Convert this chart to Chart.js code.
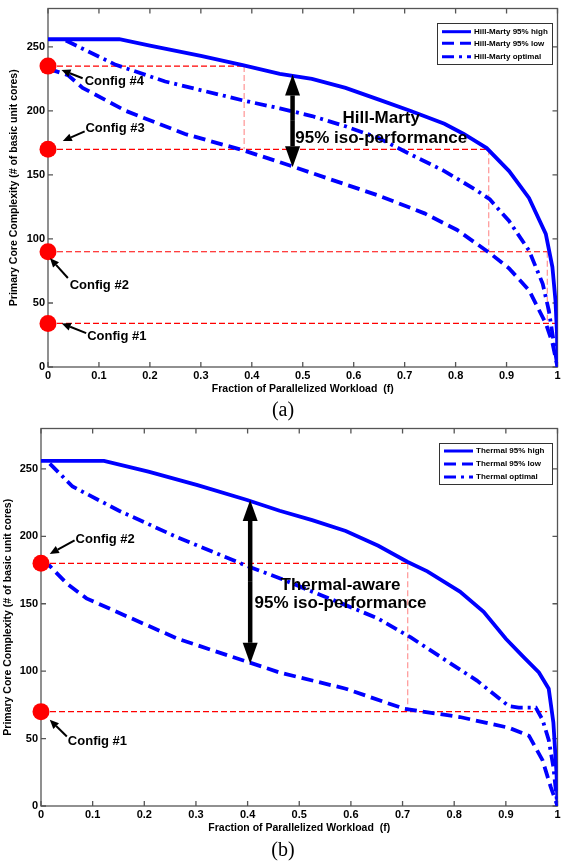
<!DOCTYPE html>
<html><head><meta charset="utf-8">
<script src="https://cdn.jsdelivr.net/npm/chart.js@4.4.1/dist/chart.umd.min.js"></script>
<style>
body{margin:0;background:#fff;width:566px;height:867px;position:relative;overflow:hidden}
.wrap{position:absolute;left:0;width:566px}
.cap{position:absolute;left:0;width:566px;text-align:center;font-family:"Liberation Serif","Times New Roman",serif;font-size:20px;line-height:23px;color:#000}
</style></head><body>
<div class="wrap" style="top:0;height:400px"><canvas id="ca" width="566" height="400"></canvas></div>
<div class="cap" style="top:398px">(a)</div>
<div class="wrap" style="top:420px;height:420px"><canvas id="cb" width="566" height="420"></canvas></div>
<div class="cap" style="top:838px">(b)</div>
<script>
// ---------- DATA (a) Hill-Marty ----------
const hmHighF = [0,0.14,0.2,0.3,0.38,0.455,0.518,0.584,0.648,0.712,0.778,0.816,0.861,0.905,0.944,0.977,0.99,0.996,0.999,1];
const hmHighY = [256,256,251,243,236,229,225,218,209,200,190,182,171,153,132,104,78,52,26,0];
const hmLowF  = [0,0.039,0.068,0.153,0.269,0.385,0.455,0.551,0.648,0.739,0.803,0.867,0.905,0.944,0.977,0.99,1];
const hmLowY  = [233,228,218,200,182,169,160,147,134,120,107,89,77,60,34,19,0];
const hmOptF  = [0.035,0.133,0.23,0.385,0.455,0.518,0.584,0.648,0.712,0.778,0.841,0.867,0.905,0.944,0.971,0.983,0.992,1];
const hmOptY  = [255,236,223,208,202,196,188,179,166,153,138,131,114,91,65,44,21,0];
const hmConfigY = [235,170,90,34];
const hmConfigNames = ['Config #4','Config #3','Config #2','Config #1'];
// reference lines (a)
const hmRef4F = [0,0.385,0.385], hmRef4Y = [235,235,170];
const hmRef3F = [0,0.865,0.865], hmRef3Y = [170,170,90];
const hmRef2F = [0,0.98,0.98],   hmRef2Y = [90,90,34];
const hmRef1F = [0,1],           hmRef1Y = [34,34];

// ---------- DATA (b) Thermal ----------
const thHighF = [0,0.122,0.208,0.303,0.399,0.462,0.525,0.59,0.653,0.71,0.748,0.811,0.857,0.9,0.933,0.964,0.983,0.992,0.998,1];
const thHighY = [256,256,248,238,227,219,212,204,193,181,174,159,144,124,111,99,87,62,25,0];
const thLowF  = [0,0.017,0.05,0.088,0.176,0.265,0.399,0.462,0.59,0.704,0.811,0.906,0.945,0.971,0.987,1];
const thLowY  = [180,178,165,154,139,124,107,99,87,72,66,58,52,34,14,0];
const thOptF  = [0.017,0.061,0.151,0.26,0.399,0.462,0.525,0.59,0.653,0.716,0.78,0.844,0.906,0.925,0.958,0.971,0.983,0.992,1];
const thOptY  = [254,237,219,200,178,169,159,149,139,125,109,93,74,73,73,64,49,29,0];
const thConfigY = [180,70];
const thConfigNames = ['Config #2','Config #1'];
const thRef2F = [0,0.71,0.71], thRef2Y = [180,180,70];
const thRef1F = [0,0.98],      thRef1Y = [70,70];

// tick values
const xTicks = [0,0.1,0.2,0.3,0.4,0.5,0.6,0.7,0.8,0.9,1];
const yTicks = [0,50,100,150,200,250];

const pts = (f,y) => f.map((v,i)=>({x:v,y:y[i]}));
const FONT = '"Liberation Sans", Arial, sans-serif';
const BLUE = '#0000ff';
const DASH = [12,6], DASHDOT = [12,5,3,5];

function drawArrow(ctx, x1,y1,x2,y2, lw, hl, hw){
  const a = Math.atan2(y2-y1,x2-x1);
  const bx = x2 - hl*Math.cos(a), by = y2 - hl*Math.sin(a);
  ctx.beginPath(); ctx.lineWidth = lw; ctx.moveTo(x1,y1); ctx.lineTo(bx,by); ctx.stroke();
  ctx.beginPath(); ctx.moveTo(x2,y2);
  ctx.lineTo(bx + hw/2*Math.sin(a), by - hw/2*Math.cos(a));
  ctx.lineTo(bx - hw/2*Math.sin(a), by + hw/2*Math.cos(a));
  ctx.closePath(); ctx.fill();
}

const deco = {
  id:'deco',
  beforeDatasetsDraw(chart, args, o){
    const {ctx, chartArea:a, scales:{x,y}} = chart;
    ctx.save();
    ctx.strokeStyle = '#555'; ctx.lineWidth = 1.3;
    ctx.strokeRect(a.left, a.top, a.right-a.left, a.bottom-a.top);
    ctx.beginPath();
    xTicks.forEach(v=>{ const px = x.getPixelForValue(v);
      ctx.moveTo(px,a.bottom); ctx.lineTo(px,a.bottom-5);
      ctx.moveTo(px,a.top); ctx.lineTo(px,a.top+5); });
    yTicks.forEach(v=>{ const py = y.getPixelForValue(v);
      ctx.moveTo(a.left,py); ctx.lineTo(a.left+5,py);
      ctx.moveTo(a.right,py); ctx.lineTo(a.right-5,py); });
    ctx.stroke();
    ctx.restore();
  },
  afterDraw(chart, args, o){
    const {ctx, scales:{x,y}} = chart;
    ctx.save();
    ctx.fillStyle = '#000'; ctx.strokeStyle = '#000';
    o.labels.forEach(l=>{
      drawArrow(ctx, x.getPixelForValue(l.from[0]), y.getPixelForValue(l.from[1]),
        x.getPixelForValue(l.to[0]), y.getPixelForValue(l.to[1]), 2, 9, 8);
      ctx.font = 'bold 13px ' + FONT; ctx.textAlign='left'; ctx.textBaseline='middle';
      ctx.fillText(l.text, x.getPixelForValue(l.x), y.getPixelForValue(l.y));
    });
    const bx = x.getPixelForValue(o.big.x), t = y.getPixelForValue(o.big.y1), b = y.getPixelForValue(o.big.y2);
    const mid = (t+b)/2;
    drawArrow(ctx, bx, mid, bx, t, 4.5, 21, 15);
    drawArrow(ctx, bx, mid, bx, b, 4.5, 21, 15);
    ctx.font = 'bold 17px ' + FONT; ctx.textAlign='center'; ctx.textBaseline='middle';
    o.bigText.forEach(l=> ctx.fillText(l.text, x.getPixelForValue(l.x), y.getPixelForValue(l.y)));
    const L = o.legend;
    ctx.fillStyle='#fff'; ctx.fillRect(L.x, L.y, L.w, L.h);
    ctx.strokeStyle='#333'; ctx.lineWidth=1; ctx.strokeRect(L.x+0.5, L.y+0.5, L.w, L.h);
    L.rows.forEach((r,i)=>{
      const ry = L.y + L.rowY[i];
      ctx.strokeStyle = BLUE; ctx.lineWidth = 3; ctx.setLineDash(r.dash);
      ctx.beginPath(); ctx.moveTo(L.x+5, ry); ctx.lineTo(L.x+34, ry); ctx.stroke();
      ctx.setLineDash([]);
      ctx.fillStyle='#000'; ctx.font='bold 8px ' + FONT; ctx.textAlign='left'; ctx.textBaseline='middle';
      ctx.fillText(r.label, L.x+37, ry);
    });
    ctx.restore();
  }
};

function refLine(f,y){
  return {data:pts(f,y), showLine:true, pointRadius:0, borderWidth:1.2, borderDash:[6,3],
    borderColor:'#ff0000',
    segment:{borderColor: c => c.p0.parsed.x === c.p1.parsed.x ? 'rgba(255,60,60,0.55)' : '#ff0000'}};
}
function curve(f,y,dash){
  return {data:pts(f,y), showLine:true, pointRadius:0, borderWidth:3.8, borderColor:BLUE,
    borderDash:dash, tension:0, borderCapStyle:'butt'};
}

function makeChart(id, datasets, yAxisW, xAxisH, padTop, ytPad, xtPad, deco_opts){
  return new Chart(document.getElementById(id), {
    type:'scatter',
    data:{datasets},
    plugins:[deco],
    options:{
      responsive:false, animation:false,
      layout:{padding:{top:padTop, right:1, left:0, bottom:0}},
      plugins:{legend:{display:false}, tooltip:{enabled:false}, deco:deco_opts},
      scales:{
        x:{type:'linear', min:0, max:1,
          afterFit(s){ s.height = xAxisH; s.paddingLeft=0; s.paddingRight=0; },
          afterBuildTicks(s){ s.ticks = xTicks.map(v=>({value:v})); },
          grid:{display:false, drawTicks:false}, border:{display:false},
          ticks:{padding:2, color:'#000', maxRotation:0, font:{family:FONT, size:11, weight:'bold'},
            callback:v=> (Math.round(v*10)/10).toString()},
          title:{display:true, text:'Fraction of Parallelized Workload  (f)', color:'#000',
            font:{family:FONT, size:10.5, weight:'bold'}, padding:{top:0,bottom:xtPad}}},
        y:{type:'linear', min:0, max:280,
          afterFit(s){ s.width = yAxisW; s.paddingTop=0; s.paddingBottom=0; },
          afterBuildTicks(s){ s.ticks = yTicks.map(v=>({value:v})); },
          grid:{display:false, drawTicks:false}, border:{display:false},
          ticks:{padding:3, color:'#000', font:{family:FONT, size:11, weight:'bold'}},
          title:{display:true, text:'Primary Core Complexity (# of basic unit cores)', color:'#000',
            font:{family:FONT, size:10.5, weight:'bold'}, padding:{top:ytPad,bottom:0}}}
      }
    }
  });
}

function circles(vals){
  return {data:vals.map(v=>({x:0,y:v})), pointRadius:8.5, pointBackgroundColor:'#ff0000',
    pointBorderWidth:0, borderColor:'#ff0000', clip:false, showLine:false};
}

makeChart('ca', [
  circles(hmConfigY),
  curve(hmHighF, hmHighY, []),
  curve(hmLowF, hmLowY, DASH),
  curve(hmOptF, hmOptY, DASHDOT),
  refLine(hmRef4F, hmRef4Y), refLine(hmRef3F, hmRef3Y), refLine(hmRef2F, hmRef2Y), refLine(hmRef1F, hmRef1Y)
], 48, 33, 6, 8, 4.7, {
  labels:[
    {text:hmConfigNames[0], x:0.072, y:223, from:[0.068,225.5], to:[0.0265,232]},
    {text:hmConfigNames[1], x:0.0735, y:186, from:[0.072,184], to:[0.029,176.5]},
    {text:hmConfigNames[2], x:0.0425, y:64, from:[0.039,69.5], to:[0.004,85]},
    {text:hmConfigNames[3], x:0.077, y:24, from:[0.075,26.5], to:[0.027,34]}
  ],
  big:{x:0.48, y1:228.5, y2:156},
  bigText:[{text:'Hill-Marty', x:0.654, y:194.4},{text:'95% iso-performance', x:0.654, y:179}],
  legend:{x:437, y:23, w:115, h:41, rowY:[8.7,20.3,33.7],
    rows:[{label:'Hill-Marty 95% high', dash:[]},{label:'Hill-Marty 95% low', dash:DASH},{label:'Hill-Marty optimal', dash:DASHDOT}]}
});

makeChart('cb', [
  circles(thConfigY),
  curve(thHighF, thHighY, []),
  curve(thLowF, thLowY, DASH),
  curve(thOptF, thOptY, DASHDOT),
  refLine(thRef2F, thRef2Y), refLine(thRef1F, thRef1Y)
], 41, 34, 8, 1.7, 5.7, {
  labels:[
    {text:thConfigNames[0], x:0.067, y:198, from:[0.065,197], to:[0.017,187]},
    {text:thConfigNames[1], x:0.052, y:48, from:[0.05,51.5], to:[0.017,64]}
  ],
  big:{x:0.405, y1:227, y2:105.5},
  bigText:[{text:'Thermal-aware', x:0.58, y:163.4},{text:'95% iso-performance', x:0.58, y:150}],
  legend:{x:439, y:23, w:113, h:41, rowY:[8,21,34],
    rows:[{label:'Thermal 95% high', dash:[]},{label:'Thermal 95% low', dash:DASH},{label:'Thermal optimal', dash:DASHDOT}]}
});
</script>
</body></html>
